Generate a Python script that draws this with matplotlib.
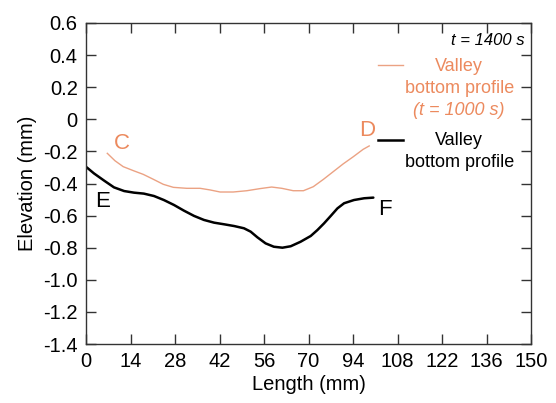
import matplotlib
matplotlib.use("Agg")
import matplotlib.pyplot as plt

plt.rcParams['font.family'] = ['Liberation Sans', 'DejaVu Sans']

# x positions are in tick units (ticks evenly spaced every 14), labels as printed
x_tick_pos = [0, 14, 28, 42, 56, 70, 84, 98, 112, 126, 140]
x_tick_labels = ['0', '14', '28', '42', '56', '70', '94', '108', '122', '136', '150']
y_ticks = [0.6, 0.4, 0.2, 0.0, -0.2, -0.4, -0.6, -0.8, -1.0, -1.2, -1.4]
y_tick_labels = ['0.6', '0.4', '0.2', '0', '-0.2', '-0.4', '-0.6', '-0.8', '-1.0', '-1.2', '-1.4']

# Valley bottom profile at t = 1400 s (E -> F)
ef_x = [0.2, 2.5, 5.7, 8.8, 12.0, 15.1, 18.2, 21.4, 24.5, 27.7, 30.8, 34.0, 37.1,
        40.3, 43.4, 46.6, 49.7, 51.8, 53.9, 56.5, 59.1, 61.8, 64.4, 67.5, 70.7,
        72.8, 74.9, 77.0, 79.1, 81.2, 84.3, 87.5, 90.4]
ef_y = [-0.299, -0.337, -0.382, -0.424, -0.447, -0.457, -0.463, -0.478, -0.503,
        -0.534, -0.569, -0.602, -0.627, -0.644, -0.654, -0.665, -0.679, -0.700,
        -0.735, -0.773, -0.794, -0.800, -0.791, -0.763, -0.727, -0.690, -0.648,
        -0.602, -0.555, -0.523, -0.503, -0.492, -0.488]

# Valley bottom profile at t = 1000 s (C -> D)
cd_x = [6.7, 9.1, 11.7, 14.9, 18.0, 21.2, 24.3, 27.5, 31.7, 35.9, 39.0, 42.2,
        46.3, 50.6, 54.7, 58.4, 61.6, 65.2, 68.4, 71.5, 74.7, 77.8, 80.9, 84.1,
        87.2, 89.1]
cd_y = [-0.212, -0.258, -0.295, -0.320, -0.343, -0.374, -0.405, -0.424, -0.430,
        -0.430, -0.440, -0.453, -0.453, -0.445, -0.432, -0.422, -0.430, -0.445,
        -0.445, -0.420, -0.374, -0.326, -0.278, -0.233, -0.187, -0.166]

orange_line = '#EBA283'
orange_text = '#EC8A5E'

fig = plt.figure(figsize=(5.56, 4.03), dpi=100)
ax = fig.add_axes([86/556, 1-344/403, 445/556, 321/403])

ax.plot(cd_x, cd_y, color=orange_line, lw=1.0, solid_joinstyle='round')
ax.plot(ef_x, ef_y, color='black', lw=1.8, solid_joinstyle='round',
        solid_capstyle='round')

ax.set_xlim(0, 140)
ax.set_ylim(-1.4, 0.6)
ax.set_xticks(x_tick_pos)
ax.set_xticklabels(x_tick_labels)
ax.set_yticks(y_ticks)
ax.set_yticklabels(y_tick_labels)
ax.tick_params(direction='in', length=7, width=1, color='#333333',
               top=True, right=True, labelsize=14.5, pad=6)
for s in ax.spines.values():
    s.set_color('#333333')
    s.set_linewidth(1)

ax.set_xlabel('Length (mm)', fontsize=14.5, labelpad=3)
ax.set_ylabel('Elevation (mm)', fontsize=14.5, labelpad=4)

# annotations
ax.text(138.1, 0.488, 't = 1400 s', style='italic', fontsize=12,
        ha='right', va='center', color='black')

ax.plot([91.8, 99.6], [0.337, 0.337], color=orange_line, lw=1.0)
ax.text(117.4, 0.330, 'Valley', fontsize=13, color=orange_text, ha='center', va='center')
ax.text(117.4, 0.191, 'bottom profile', fontsize=13, color=orange_text, ha='center', va='center')
ax.text(117.4, 0.056, '(t = 1000 s)', fontsize=13, color=orange_text, ha='center', va='center',
        style='italic')

ax.plot([91.8, 99.6], [-0.130, -0.130], color='black', lw=1.8)
ax.text(117.4, -0.130, 'Valley', fontsize=13, color='black', ha='center', va='center')
ax.text(117.4, -0.269, 'bottom profile', fontsize=13, color='black', ha='center', va='center')

ax.text(11.4, -0.151, 'C', fontsize=16, color=orange_text, ha='center', va='center')
ax.text(88.4, -0.072, 'D', fontsize=16, color=orange_text, ha='center', va='center')
ax.text(5.2, -0.510, 'E', fontsize=16, color='black', ha='center', va='center')
ax.text(94.0, -0.562, 'F', fontsize=16, color='black', ha='center', va='center')

fig.savefig('out.png', dpi=100)
